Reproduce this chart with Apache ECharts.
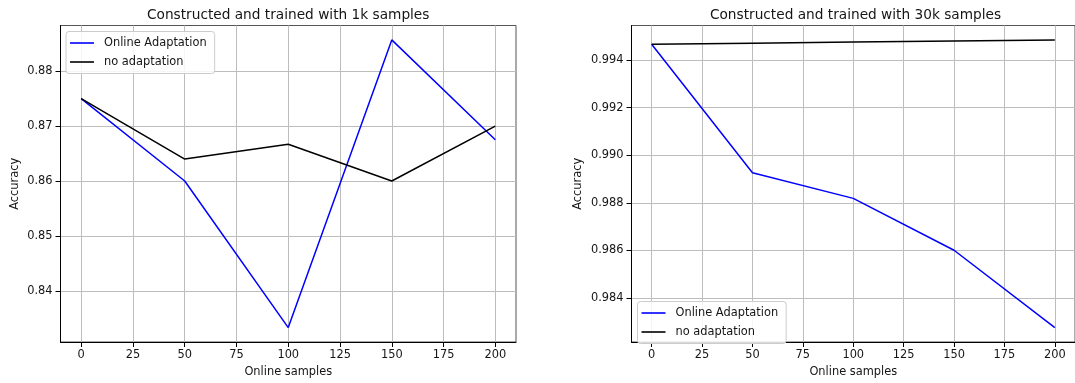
<!DOCTYPE html>
<html>
<head>
<meta charset="utf-8">
<title>Online adaptation accuracy</title>
<script src="https://cdn.jsdelivr.net/npm/echarts@6/dist/echarts.min.js"></script>
<style>
  html, body { margin: 0; padding: 0; background: #ffffff; }
  #chart { width: 1075px; height: 383px; }
</style>
</head>
<body>
<div id="chart"></div>
<script>
// Online samples seen after construction
const samples = [0, 50, 100, 150, 200];

// Model built with 1k samples
const online1k = [0.875, 0.860, 0.8333, 0.8857, 0.8675];
const noAdapt1k = [0.875, 0.864, 0.8667, 0.860, 0.870];

// Model built with 30k samples
const online30k = [0.99467, 0.98927, 0.98819, 0.98601, 0.98276];
const noAdapt30k = [0.99467, 0.99471, 0.99476, 0.99480, 0.99485];

// Tick labels
const xTicks = [0, 25, 50, 75, 100, 125, 150, 175, 200];
const yTicks1k = [0.84, 0.85, 0.86, 0.87, 0.88];
const yTicks30k = [0.984, 0.986, 0.988, 0.990, 0.992, 0.994];

const seriesNames = ['Online Adaptation', 'no adaptation'];
const titles = ['Constructed and trained with 1k samples', 'Constructed and trained with 30k samples'];

const FONT = 'DejaVu Sans';
const TEXT = '#151515';
const SIZE = 11.4;

const pairs = (ys) => samples.map((x, i) => [x, ys[i]]);

// matplotlib-style auto limits: 5% margin around the data
function padded(arrs) {
  const all = [].concat(...arrs);
  const lo = Math.min(...all), hi = Math.max(...all);
  const m = (hi - lo) * 0.05;
  return [lo - m, hi + m];
}
const range1k = padded([online1k, noAdapt1k]);
const range30k = padded([online30k, noAdapt30k]);

const grids = [
  { left: 60.5, top: 25.5, width: 455.5, height: 319.5 },
  { left: 631.5, top: 25.5, width: 448, height: 319.5 }
];

function xAxis(idx) {
  return {
    type: 'value', gridIndex: idx, min: -10, max: 210,
    name: 'Online samples', nameLocation: 'middle', nameGap: 25,
    nameTextStyle: { fontFamily: FONT, fontSize: SIZE, color: TEXT },
    axisLine: { show: true, onZero: false, lineStyle: { color: '#000', width: 1 } },
    axisTick: { show: true, inside: false, length: 5, customValues: xTicks, lineStyle: { color: '#000' } },
    axisLabel: { customValues: xTicks, margin: 8, fontFamily: FONT, fontSize: SIZE, color: TEXT },
    splitLine: { show: true, lineStyle: { color: '#bdbdbd', width: 1 } }
  };
}

function yAxis(idx, range, ticks, digits, gap) {
  return {
    type: 'value', gridIndex: idx, min: range[0], max: range[1],
    name: 'Accuracy', nameLocation: 'middle', nameGap: gap,
    nameTextStyle: { fontFamily: FONT, fontSize: SIZE, color: TEXT },
    axisLine: { show: true, onZero: false, lineStyle: { color: '#000', width: 1 } },
    axisTick: { show: true, inside: false, length: 5, customValues: ticks, lineStyle: { color: '#000' } },
    axisLabel: {
      customValues: ticks, margin: 8, fontFamily: FONT, fontSize: SIZE, color: TEXT,
      formatter: (v) => v.toFixed(digits)
    },
    splitLine: { show: true, lineStyle: { color: '#bdbdbd', width: 1 } }
  };
}

function line(name, data, color, idx) {
  return {
    name, type: 'line', xAxisIndex: idx, yAxisIndex: idx,
    data: pairs(data), symbol: 'none', silent: true, animation: false,
    lineStyle: { color, width: 1.5 }, itemStyle: { color }
  };
}

function legend(left, top) {
  return {
    data: seriesNames, orient: 'vertical', left, top,
    icon: 'rect', itemWidth: 24, itemHeight: 1.6, itemGap: 4,
    padding: [4, 8, 4, 4],
    backgroundColor: 'rgba(255,255,255,0.85)', borderColor: '#cccccc', borderWidth: 1, borderRadius: 3,
    selectedMode: false,
    formatter: (n) => '{t|' + n + '}',
    textStyle: {
      fontFamily: FONT, fontSize: SIZE, color: TEXT,
      rich: { t: { fontFamily: FONT, fontSize: SIZE, color: TEXT, lineHeight: 13.6, padding: [2, 0, 2, 5] } }
    }
  };
}

const chart = echarts.init(document.getElementById('chart'), null, { renderer: 'canvas' });
chart.setOption({
  animation: false,
  backgroundColor: '#ffffff',
  title: [
    { text: titles[0], left: 288.2, top: 8, textAlign: 'center', padding: 0,
      textStyle: { fontFamily: FONT, fontSize: 13.7, fontWeight: 'normal', color: TEXT } },
    { text: titles[1], left: 855.5, top: 8, textAlign: 'center', padding: 0,
      textStyle: { fontFamily: FONT, fontSize: 13.7, fontWeight: 'normal', color: TEXT } }
  ],
  grid: grids.map(g => Object.assign({ show: true, borderColor: '#555', borderWidth: 1, backgroundColor: 'transparent' }, g)),
  xAxis: [xAxis(0), xAxis(1)],
  yAxis: [yAxis(0, range1k, yTicks1k, 2, 40), yAxis(1, range30k, yTicks30k, 3, 48)],
  legend: [legend(66, 31.5), legend(637.5, 301.5)],
  series: [
    line(seriesNames[0], online1k, '#0000ff', 0),
    line(seriesNames[1], noAdapt1k, '#000000', 0),
    line(seriesNames[0], online30k, '#0000ff', 1),
    line(seriesNames[1], noAdapt30k, '#000000', 1)
  ]
});
</script>
</body>
</html>
